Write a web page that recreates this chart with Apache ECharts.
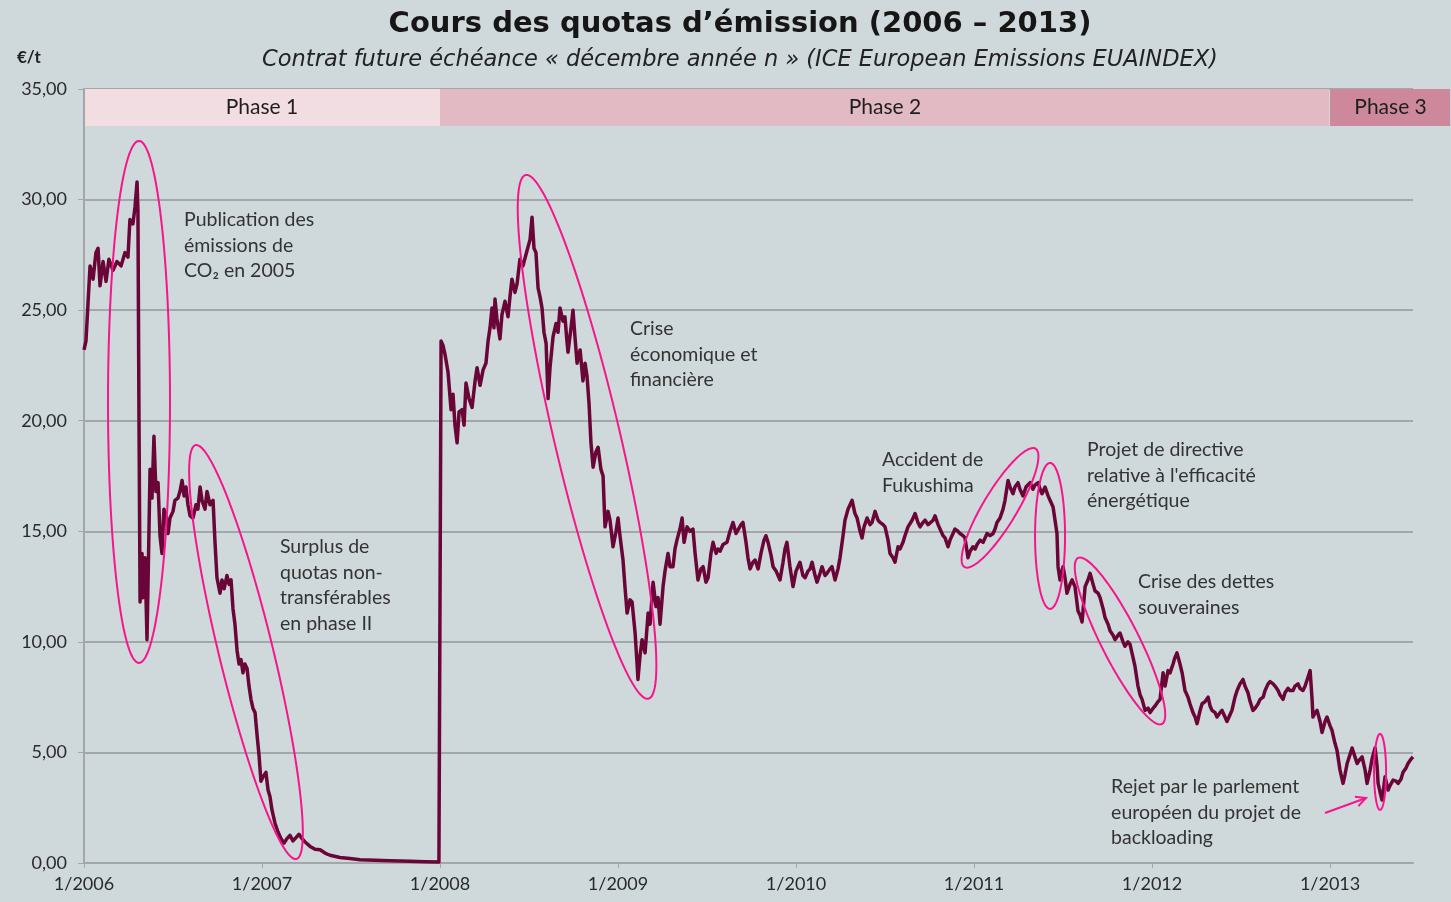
<!DOCTYPE html>
<html>
<head>
<meta charset="utf-8">
<script src="https://cdn.jsdelivr.net/npm/echarts@6/dist/echarts.min.js"></script>
<style>
html, body { margin: 0; padding: 0; background: #cfd8db; }
#main { width: 1451px; height: 902px; }
</style>
</head>
<body>
<div id="main"></div>
<script>
// cours en €/t ; le temps est en années décimales (2008.5 = début juillet 2008)
var prices2006 = [
    [2006.000, 23.2], [2006.011, 23.6], [2006.034, 27.0], [2006.051, 26.4], [2006.067, 27.6],
    [2006.079, 27.8], [2006.090, 26.1], [2006.107, 27.2], [2006.124, 26.3], [2006.140, 27.3],
    [2006.163, 26.8], [2006.185, 27.2], [2006.208, 27.0], [2006.230, 27.6], [2006.247, 27.4],
    [2006.258, 29.1], [2006.275, 28.9], [2006.287, 29.7], [2006.298, 30.8], [2006.303, 29.5],
    [2006.309, 20.0], [2006.315, 11.8], [2006.326, 14.0], [2006.331, 12.0], [2006.343, 13.8],
    [2006.354, 10.1], [2006.365, 15.0], [2006.371, 17.8], [2006.382, 16.5], [2006.393, 19.3],
    [2006.404, 16.8], [2006.416, 17.2], [2006.427, 14.8], [2006.438, 14.0], [2006.449, 16.0],
    [2006.461, 15.7], [2006.472, 14.9], [2006.483, 15.6], [2006.500, 15.9], [2006.511, 16.4],
    [2006.528, 16.5], [2006.539, 16.8], [2006.551, 17.3], [2006.562, 16.6], [2006.573, 17.0],
    [2006.584, 16.2], [2006.596, 15.7], [2006.612, 15.6], [2006.629, 16.2], [2006.640, 16.0],
    [2006.652, 17.0], [2006.663, 16.4], [2006.680, 16.0], [2006.691, 16.8], [2006.708, 16.2],
    [2006.725, 16.4], [2006.736, 14.5], [2006.747, 12.9], [2006.764, 12.2], [2006.775, 12.8],
    [2006.787, 12.4], [2006.803, 13.0], [2006.815, 12.6], [2006.826, 12.8], [2006.837, 11.5],
    [2006.848, 10.8], [2006.860, 9.6], [2006.871, 9.0], [2006.882, 9.2], [2006.893, 8.6],
    [2006.904, 9.0], [2006.916, 8.8], [2006.927, 8.0], [2006.938, 7.4], [2006.949, 7.0],
    [2006.961, 6.8], [2006.972, 5.8], [2006.983, 4.9], [2006.994, 3.7]
];
var prices2007 = [
    [2007.006, 3.9], [2007.022, 4.1], [2007.034, 3.3], [2007.045, 3.0], [2007.056, 2.4],
    [2007.073, 1.8], [2007.090, 1.4], [2007.107, 1.1], [2007.124, 0.9], [2007.140, 1.1],
    [2007.157, 1.25], [2007.174, 1.0], [2007.191, 1.15], [2007.208, 1.3], [2007.225, 1.1],
    [2007.242, 0.95], [2007.270, 0.75], [2007.298, 0.62], [2007.326, 0.6], [2007.354, 0.45],
    [2007.382, 0.35], [2007.438, 0.25], [2007.494, 0.2], [2007.551, 0.15], [2007.635, 0.12],
    [2007.719, 0.1], [2007.831, 0.08], [2007.916, 0.06], [2007.994, 0.05]
];
var prices2008 = [
    [2008.006, 23.6], [2008.017, 23.4], [2008.028, 23.0], [2008.045, 22.2], [2008.062, 20.5],
    [2008.073, 21.2], [2008.084, 19.8], [2008.096, 19.0], [2008.107, 20.4], [2008.124, 20.5],
    [2008.135, 19.8], [2008.146, 21.7], [2008.163, 21.0], [2008.180, 20.6], [2008.197, 21.8],
    [2008.208, 22.4], [2008.225, 21.6], [2008.242, 22.3], [2008.258, 22.6], [2008.270, 23.6],
    [2008.281, 24.2], [2008.292, 25.1], [2008.303, 24.2], [2008.309, 25.5], [2008.320, 24.6],
    [2008.337, 23.7], [2008.348, 24.8], [2008.365, 25.4], [2008.382, 24.7], [2008.393, 25.6],
    [2008.404, 26.4], [2008.421, 25.8], [2008.433, 26.2], [2008.449, 27.3], [2008.466, 27.0],
    [2008.489, 27.7], [2008.506, 28.2], [2008.517, 29.2], [2008.528, 27.8], [2008.539, 27.6],
    [2008.551, 26.0], [2008.562, 25.6], [2008.573, 25.1], [2008.584, 24.0], [2008.596, 23.5],
    [2008.607, 21.0], [2008.618, 22.4], [2008.635, 23.8], [2008.652, 24.4], [2008.663, 24.0],
    [2008.674, 25.1], [2008.691, 24.5], [2008.702, 24.7], [2008.713, 23.6], [2008.719, 23.1],
    [2008.736, 24.2], [2008.747, 25.0], [2008.758, 23.8], [2008.770, 22.6], [2008.787, 23.2],
    [2008.803, 21.8], [2008.815, 22.6], [2008.826, 22.0], [2008.837, 20.8], [2008.848, 19.0],
    [2008.860, 17.9], [2008.876, 18.6], [2008.888, 18.8], [2008.904, 17.8], [2008.916, 17.5],
    [2008.927, 15.2], [2008.944, 15.9], [2008.955, 15.5], [2008.972, 14.3], [2008.989, 15.0]
];
var prices2009 = [
    [2009.000, 15.6], [2009.011, 14.8], [2009.028, 13.7], [2009.039, 12.5], [2009.051, 11.3],
    [2009.067, 11.9], [2009.079, 11.8], [2009.096, 10.4], [2009.107, 9.0], [2009.112, 8.3],
    [2009.124, 9.4], [2009.135, 10.1], [2009.152, 9.5], [2009.169, 11.3], [2009.180, 10.8],
    [2009.197, 12.7], [2009.213, 11.6], [2009.225, 12.0], [2009.236, 10.8], [2009.253, 12.5],
    [2009.264, 13.2], [2009.281, 14.0], [2009.292, 13.4], [2009.309, 13.4], [2009.320, 14.2],
    [2009.331, 14.6], [2009.348, 15.1], [2009.360, 15.6], [2009.371, 14.5], [2009.388, 15.2],
    [2009.404, 15.0], [2009.421, 15.1], [2009.433, 14.0], [2009.449, 12.8], [2009.466, 13.3],
    [2009.478, 13.4], [2009.494, 12.7], [2009.506, 12.9], [2009.522, 14.0], [2009.534, 14.5],
    [2009.551, 14.0], [2009.562, 14.2], [2009.573, 14.1], [2009.590, 14.4], [2009.612, 14.5],
    [2009.629, 15.0], [2009.646, 15.4], [2009.663, 14.9], [2009.674, 14.9], [2009.691, 15.3],
    [2009.702, 15.4], [2009.719, 14.5], [2009.730, 13.8], [2009.742, 13.3], [2009.758, 13.6],
    [2009.770, 13.7], [2009.787, 13.3], [2009.803, 14.0], [2009.820, 14.6], [2009.831, 14.8],
    [2009.843, 14.5], [2009.860, 13.9], [2009.871, 13.4], [2009.888, 13.2], [2009.899, 13.0],
    [2009.910, 12.8], [2009.927, 13.6], [2009.938, 14.2], [2009.949, 14.5], [2009.966, 13.4],
    [2009.983, 12.5]
];
var prices2010 = [
    [2010.000, 13.2], [2010.011, 13.4], [2010.022, 13.6], [2010.039, 13.0], [2010.051, 12.9],
    [2010.067, 13.2], [2010.079, 13.3], [2010.090, 13.6], [2010.107, 13.0], [2010.118, 12.7],
    [2010.135, 13.1], [2010.146, 13.4], [2010.163, 13.0], [2010.174, 13.1], [2010.191, 13.3],
    [2010.202, 13.4], [2010.219, 12.8], [2010.236, 13.3], [2010.247, 13.8], [2010.264, 14.8],
    [2010.275, 15.5], [2010.292, 16.0], [2010.315, 16.4], [2010.331, 15.8], [2010.343, 15.6],
    [2010.360, 15.0], [2010.371, 14.7], [2010.382, 15.2], [2010.399, 15.6], [2010.416, 15.3],
    [2010.427, 15.4], [2010.444, 15.9], [2010.461, 15.5], [2010.472, 15.4], [2010.489, 15.3],
    [2010.500, 15.2], [2010.517, 14.6], [2010.528, 14.0], [2010.545, 13.8], [2010.556, 13.6],
    [2010.573, 14.3], [2010.584, 14.2], [2010.601, 14.5], [2010.612, 14.8], [2010.629, 15.2],
    [2010.652, 15.5], [2010.669, 15.8], [2010.685, 15.4], [2010.697, 15.2], [2010.713, 15.4],
    [2010.725, 15.5], [2010.742, 15.3], [2010.753, 15.3], [2010.770, 15.5], [2010.781, 15.7],
    [2010.798, 15.3], [2010.809, 15.1], [2010.826, 14.8], [2010.837, 14.7], [2010.854, 14.3],
    [2010.865, 14.6], [2010.882, 14.9], [2010.893, 15.1], [2010.910, 15.0], [2010.921, 14.9],
    [2010.938, 14.8], [2010.949, 14.7], [2010.966, 13.8], [2010.978, 14.1], [2010.994, 14.3]
];
var prices2011 = [
    [2011.006, 14.2], [2011.017, 14.4], [2011.034, 14.6], [2011.051, 14.5], [2011.062, 14.7],
    [2011.073, 14.9], [2011.090, 14.8], [2011.107, 14.9], [2011.118, 15.1], [2011.129, 15.4],
    [2011.146, 15.6], [2011.163, 16.0], [2011.174, 16.4], [2011.191, 17.3], [2011.202, 17.0],
    [2011.219, 16.7], [2011.230, 17.0], [2011.247, 17.2], [2011.258, 16.9], [2011.275, 16.6],
    [2011.292, 17.0], [2011.315, 17.2], [2011.331, 16.9], [2011.343, 17.1], [2011.360, 17.2],
    [2011.371, 16.9], [2011.382, 16.7], [2011.399, 17.0], [2011.416, 16.6], [2011.427, 16.4],
    [2011.444, 16.1], [2011.455, 15.5], [2011.466, 14.9], [2011.472, 13.4], [2011.483, 12.8],
    [2011.500, 13.4], [2011.511, 12.9], [2011.522, 12.2], [2011.539, 12.6], [2011.551, 12.8],
    [2011.567, 12.5], [2011.584, 11.4], [2011.596, 11.2], [2011.607, 10.9], [2011.624, 12.5],
    [2011.640, 12.8], [2011.652, 13.1], [2011.669, 12.6], [2011.680, 12.3], [2011.697, 12.2],
    [2011.708, 12.0], [2011.725, 11.5], [2011.736, 11.1], [2011.753, 10.8], [2011.764, 10.5],
    [2011.781, 10.3], [2011.792, 10.1], [2011.809, 10.3], [2011.820, 10.4], [2011.837, 10.0],
    [2011.848, 9.8], [2011.865, 10.0], [2011.876, 9.9], [2011.893, 9.3], [2011.904, 8.9],
    [2011.921, 8.0], [2011.933, 7.6], [2011.944, 7.4], [2011.961, 6.9], [2011.978, 7.0],
    [2011.989, 6.8]
];
var prices2012 = [
    [2012.006, 7.0], [2012.017, 7.1], [2012.034, 7.3], [2012.045, 7.4], [2012.062, 8.6],
    [2012.073, 8.0], [2012.090, 8.7], [2012.101, 8.6], [2012.118, 9.0], [2012.129, 9.3],
    [2012.140, 9.5], [2012.157, 9.0], [2012.169, 8.6], [2012.185, 7.8], [2012.202, 7.5],
    [2012.213, 7.2], [2012.230, 6.8], [2012.242, 6.6], [2012.253, 6.3], [2012.270, 6.9],
    [2012.281, 7.2], [2012.298, 7.3], [2012.315, 7.5], [2012.326, 7.1], [2012.337, 6.9],
    [2012.354, 6.8], [2012.365, 6.6], [2012.382, 6.8], [2012.393, 6.9], [2012.410, 6.6],
    [2012.421, 6.4], [2012.438, 6.7], [2012.449, 6.9], [2012.466, 7.5], [2012.478, 7.8],
    [2012.494, 8.1], [2012.511, 8.3], [2012.522, 8.0], [2012.539, 7.7], [2012.551, 7.3],
    [2012.567, 6.9], [2012.579, 7.0], [2012.596, 7.2], [2012.607, 7.4], [2012.624, 7.5],
    [2012.635, 7.8], [2012.652, 8.1], [2012.663, 8.2], [2012.680, 8.1], [2012.691, 8.0],
    [2012.708, 7.8], [2012.719, 7.6], [2012.736, 7.4], [2012.747, 7.7], [2012.764, 7.9],
    [2012.775, 7.8], [2012.792, 7.8], [2012.803, 8.0], [2012.820, 8.1], [2012.831, 7.9],
    [2012.848, 7.8], [2012.860, 8.0], [2012.876, 8.4], [2012.888, 8.7], [2012.899, 7.4],
    [2012.904, 6.6], [2012.916, 6.8], [2012.927, 6.9], [2012.944, 6.4], [2012.955, 5.9],
    [2012.972, 6.4], [2012.983, 6.6]
];
var prices2013 = [
    [2013.000, 6.2], [2013.011, 6.0], [2013.028, 5.4], [2013.039, 5.1], [2013.056, 4.2],
    [2013.073, 3.6], [2013.084, 4.0], [2013.096, 4.5], [2013.112, 4.9], [2013.124, 5.2],
    [2013.140, 4.8], [2013.152, 4.5], [2013.169, 4.7], [2013.180, 4.8], [2013.197, 4.2],
    [2013.208, 3.6], [2013.225, 4.2], [2013.236, 4.7], [2013.253, 5.2], [2013.264, 4.4],
    [2013.270, 3.6], [2013.281, 3.2], [2013.292, 2.85], [2013.303, 3.5], [2013.309, 3.9],
    [2013.326, 3.3], [2013.337, 3.5], [2013.354, 3.75], [2013.371, 3.7], [2013.382, 3.6],
    [2013.399, 3.8], [2013.410, 4.1], [2013.427, 4.3], [2013.438, 4.5], [2013.455, 4.7],
    [2013.466, 4.8]
];

var yearTicks = [2006, 2007, 2008, 2009, 2010, 2011, 2012, 2013];
var phaseNames = ['Phase 1', 'Phase 2', 'Phase 3'];
var phaseStart = [2006, 2008, 2013];
var phaseEnd = [2008, 2013, 2013.68];

var allPrices = [].concat(prices2006, prices2007, prices2008, prices2009,
    prices2010, prices2011, prices2012, prices2013);

// annotations : ancre en données, rayons en pixels
var notes = [
    { at: [2006.562, 29.08], lines: ['Publication des', 'émissions de', 'CO₂ en 2005'] },
    { at: [2007.101, 14.29], lines: ['Surplus de', 'quotas non-', 'transférables', 'en phase II'] },
    { at: [2009.067, 24.15], lines: ['Crise', 'économique et', 'financière'] },
    { at: [2010.483, 18.23], lines: ['Accident de', 'Fukushima'] },
    { at: [2011.635, 18.68], lines: ['Projet de directive', 'relative à l\'efficacité', 'énergétique'] },
    { at: [2011.921, 12.71], lines: ['Crise des dettes', 'souveraines'] },
    { at: [2011.770, 3.44], lines: ['Rejet par le parlement', 'européen du projet de', 'backloading'] }
];
var rings = [
    { at: [2006.309, 20.85], a: 261, b: 31, tilt: 0 },
    { at: [2006.910, 9.54], a: 213, b: 27, tilt: -13.7 },
    { at: [2008.826, 19.27], a: 269, b: 33, tilt: -13.2 },
    { at: [2011.146, 16.06], a: 69, b: 17, tilt: 31 },
    { at: [2011.427, 14.79], a: 73, b: 15, tilt: 0 },
    { at: [2011.820, 10.04], a: 93, b: 19, tilt: -26.8 },
    { at: [2013.281, 4.12], a: 38, b: 6, tilt: 0 }
];
var arrowFrom = [2012.972, 2.26];
var arrowTo = [2013.202, 2.94];

var pink = '#f5168b';
var gridGrey = '#a3a7a9';
var labelFont = 'Lato, "Open Sans", sans-serif';

var myChart = echarts.init(document.getElementById('main'));

var option = {
    backgroundColor: '#cfd8db',
    animation: false,
    title: [{
        text: 'Cours des quotas d\u2019émission (2006 \u2013 2013)',
        left: 735, top: 5, textAlign: 'center',
        textStyle: { fontFamily: '"DejaVu Sans", sans-serif', fontSize: 29, fontWeight: 'bold', color: '#161616' }
    }, {
        text: 'Contrat future échéance « décembre année n » (ICE European Emissions EUAINDEX)',
        left: 735, top: 44, textAlign: 'center',
        textStyle: { fontFamily: '"DejaVu Sans", sans-serif', fontSize: 22.5, fontStyle: 'italic', fontWeight: 'normal', color: '#222' }
    }],
    grid: { left: 84, right: 38, top: 89, bottom: 39 },
    xAxis: {
        type: 'value',
        min: 2006,
        max: 2013.466,
        interval: 1,
        axisLine: { lineStyle: { color: gridGrey, width: 2 } },
        axisTick: { show: true, length: 5, customValues: yearTicks, lineStyle: { color: gridGrey, width: 1 } },
        axisLabel: {
            customValues: yearTicks,
            formatter: function (v) { return '1/' + v; },
            color: '#2a2a2a', fontFamily: labelFont, fontSize: 18, margin: 12
        },
        splitLine: { show: false }
    },
    yAxis: {
        type: 'value',
        min: 0,
        max: 35,
        interval: 5,
        axisLine: { show: true, lineStyle: { color: gridGrey, width: 2 } },
        axisTick: { show: true, length: 6, lineStyle: { color: gridGrey, width: 1 } },
        axisLabel: {
            formatter: function (v) { return v.toFixed(2).replace('.', ','); },
            color: '#2a2a2a', fontFamily: labelFont, fontSize: 18, margin: 17
        },
        splitLine: { lineStyle: { color: gridGrey, width: 2 } }
    },
    series: [{
        name: 'EUA',
        type: 'line',
        data: allPrices,
        showSymbol: false,
        lineStyle: { color: '#6a0637', width: 3.5, join: 'round' },
        z: 3
    }]
};
myChart.setOption(option);

function toPx(p) { return myChart.convertToPixel({ gridIndex: 0 }, p); }

function ellipsePoints(c, a, b, deg) {
    var th = deg * Math.PI / 180, pts = [];
    for (var k = 0; k <= 120; k++) {
        var f = k / 120 * 2 * Math.PI;
        var s = Math.sin(f) * a, q = Math.cos(f) * b;
        pts.push([c[0] + s * Math.sin(th) + q * Math.cos(th), c[1] - s * Math.cos(th) + q * Math.sin(th)]);
    }
    return pts;
}

var phaseColors = ['#f1dde2', '#e2bac4', '#cd899b'];
var gfx = [];

phaseNames.forEach(function (name, i) {
    var p0 = toPx([phaseStart[i], 35]);
    var p1 = toPx([phaseEnd[i], 33.33]);
    gfx.push({
        type: 'rect', z: 10,
        shape: { x: p0[0] + (i === 0 ? 1 : 0), y: p0[1], width: p1[0] - p0[0] - 1, height: p1[1] - p0[1] },
        style: { fill: phaseColors[i] }
    });
    gfx.push({
        type: 'text', z: 11,
        x: (p0[0] + p1[0]) / 2, y: (p0[1] + p1[1]) / 2,
        style: { text: name, font: '21px ' + labelFont, fill: '#1e1e1e', align: 'center', verticalAlign: 'middle' }
    });
});

rings.forEach(function (r) {
    gfx.push({
        type: 'polygon', z: 12,
        shape: { points: ellipsePoints(toPx(r.at), r.a, r.b, r.tilt) },
        style: { fill: 'none', stroke: pink, lineWidth: 2 }
    });
});

var s = toPx(arrowFrom), e = toPx(arrowTo);
var dx = e[0] - s[0], dy = e[1] - s[1], len = Math.sqrt(dx * dx + dy * dy);
var ux = dx / len, uy = dy / len;
gfx.push({ type: 'line', z: 12, shape: { x1: s[0], y1: s[1], x2: e[0], y2: e[1] }, style: { stroke: pink, lineWidth: 2 } });
gfx.push({
    type: 'polyline', z: 12,
    shape: { points: [[e[0] - 10 * ux + 5 * uy, e[1] - 10 * uy - 5 * ux], [e[0], e[1]], [e[0] - 10 * ux - 5 * uy, e[1] - 10 * uy + 5 * ux]] },
    style: { stroke: pink, lineWidth: 2, fill: 'none' }
});

notes.forEach(function (n) {
    var p = toPx(n.at);
    gfx.push({
        type: 'text', z: 13,
        x: p[0], y: p[1] - 12.75,
        style: { text: n.lines.join('\n'), font: '19.5px ' + labelFont, fill: '#333', lineHeight: 25.5, align: 'left', verticalAlign: 'top' }
    });
});

gfx.push({
    type: 'text', z: 13, x: 17, y: 58,
    style: { text: '€/t', font: 'bold 17px ' + labelFont, fill: '#222', verticalAlign: 'middle' }
});

myChart.setOption({ graphic: gfx });
</script>
</body>
</html>
